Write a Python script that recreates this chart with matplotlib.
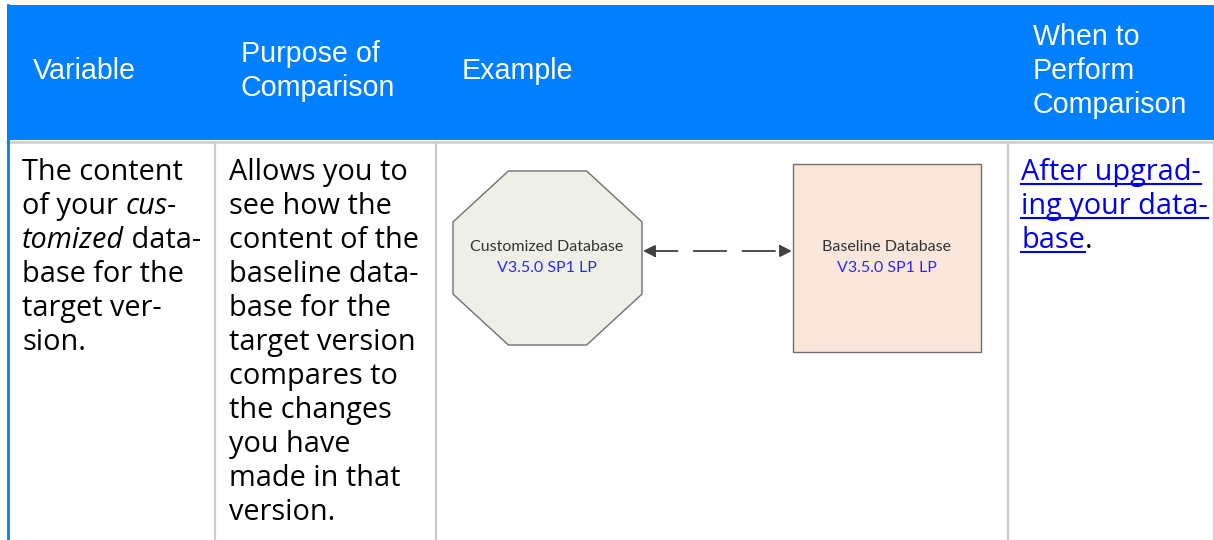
import matplotlib
matplotlib.use('Agg')
import matplotlib.pyplot as plt
from matplotlib.patches import Rectangle, Polygon, FancyArrowPatch
from matplotlib.font_manager import FontProperties
import numpy as np

W, H = 1214, 540

# table content
headers = [['Variable'], ['Purpose of', 'Comparison'], ['Example'],
           ['When to', 'Perform', 'Comparison']]
header_x = [33, 241, 462, 1033]

# each line is a list of (text, style) pieces; style: n=normal, i=italic, l=link
col1 = [[('The content', 'n')],
        [('of your ', 'n'), ('cus-', 'i')],
        [('tomized', 'i'), (' data-', 'n')],
        [('base for the', 'n')],
        [('target ver-', 'n')],
        [('sion.', 'n')]]
col2 = [[(s, 'n')] for s in ['Allows you to', 'see how the', 'content of the',
                              'baseline data-', 'base for the', 'target version',
                              'compares to', 'the changes', 'you have',
                              'made in that', 'version.']]
col4 = [[('After upgrad-', 'l')],
        [('ing your data-', 'l')],
        [('base', 'l'), ('.', 'n')]]
body_x = [22, 229, None, 1021]

diagram_names = ['Customized Database', 'Baseline Database']
diagram_versions = ['V3.5.0 SP1 LP', 'V3.5.0 SP1 LP']

BLUE = '#0080FF'
GRID = '#CCCCCC'
LINK = '#0000EE'

fig = plt.figure(figsize=(W / 100, H / 100), dpi=100)
ax = fig.add_axes([0, 0, 1, 1])
ax.set_xlim(0, W)
ax.set_ylim(H, 0)
ax.axis('off')

# header band and borders
ax.add_patch(Rectangle((7, 5), W - 7, 135, facecolor=BLUE, edgecolor='none'))
ax.plot([7, W], [141.5, 141.5], color=GRID, lw=1.8)
ax.plot([8, 8], [5, H], color=BLUE, lw=2)
for x in [215, 436, 1008]:
    ax.plot([x, x], [143, H], color=GRID, lw=1.6)
ax.plot([1212.5, 1212.5], [143, H], color=GRID, lw=1)

hfont = FontProperties(family='Liberation Sans', size=20.6)
for lines, x in zip(headers, header_x):
    n = len(lines)
    y0 = 79 - (n - 1) * 17
    for k, s in enumerate(lines):
        ax.text(x, y0 + 34 * k, s, color='white', fontproperties=hfont,
                va='baseline', ha='left')

fonts = {'n': FontProperties(family='Open Sans', size=20.8),
         'i': FontProperties(family='Open Sans', style='italic', size=20.8),
         'l': FontProperties(family='Open Sans', size=20.8)}
renderer = fig.canvas.get_renderer()


def seg_width(s, prop):
    w1 = renderer.get_text_width_height_descent(s + '|', prop, ismath=False)[0]
    w2 = renderer.get_text_width_height_descent('|', prop, ismath=False)[0]
    return w1 - w2


for lines, x in [(col1, body_x[0]), (col2, body_x[1]), (col4, body_x[3])]:
    for k, pieces in enumerate(lines):
        y = 180 + 34 * k
        cx = x
        for s, st in pieces:
            col = LINK if st == 'l' else 'black'
            ax.text(cx, y, s, color=col, fontproperties=fonts[st],
                    va='baseline', ha='left')
            w = seg_width(s, fonts[st])
            if st == 'l':
                ax.plot([cx, cx + w], [y + 4, y + 4], color=LINK, lw=1.5)
            cx += w

# diagram: octagon (x 453-642, y 171-345) and square
x0, x1, y0, y1 = 453, 642, 171, 345
dx = (x1 - x0) / (2 + np.sqrt(2))
dy = (y1 - y0) / (2 + np.sqrt(2))
octo = [(x0 + dx, y0), (x1 - dx, y0), (x1, y0 + dy), (x1, y1 - dy),
        (x1 - dx, y1), (x0 + dx, y1), (x0, y1 - dy), (x0, y0 + dy)]
ax.add_patch(Polygon(octo, closed=True, facecolor='#EEF0E7',
                     edgecolor='#707070', lw=1))
ax.add_patch(Rectangle((793, 164), 188, 188, facecolor='#FBE6DC',
                       edgecolor='#707070', lw=1))
arr = FancyArrowPatch((643, 251), (792, 251), arrowstyle='<|-|>',
                      mutation_scale=18, color='#404040', lw=1.3,
                      linestyle=(0, (18, 9)), shrinkA=0, shrinkB=0)
ax.add_patch(arr)

small = FontProperties(family='Lato', size=11.5)
for cx, name, ver in zip([547, 887], diagram_names, diagram_versions):
    ax.text(cx, 247, name, color='#333333', fontproperties=small,
            ha='center', va='center')
    ax.text(cx, 268, ver, color='#2B2BF0', fontproperties=small,
            ha='center', va='center')

fig.savefig('out.png', dpi=100)
